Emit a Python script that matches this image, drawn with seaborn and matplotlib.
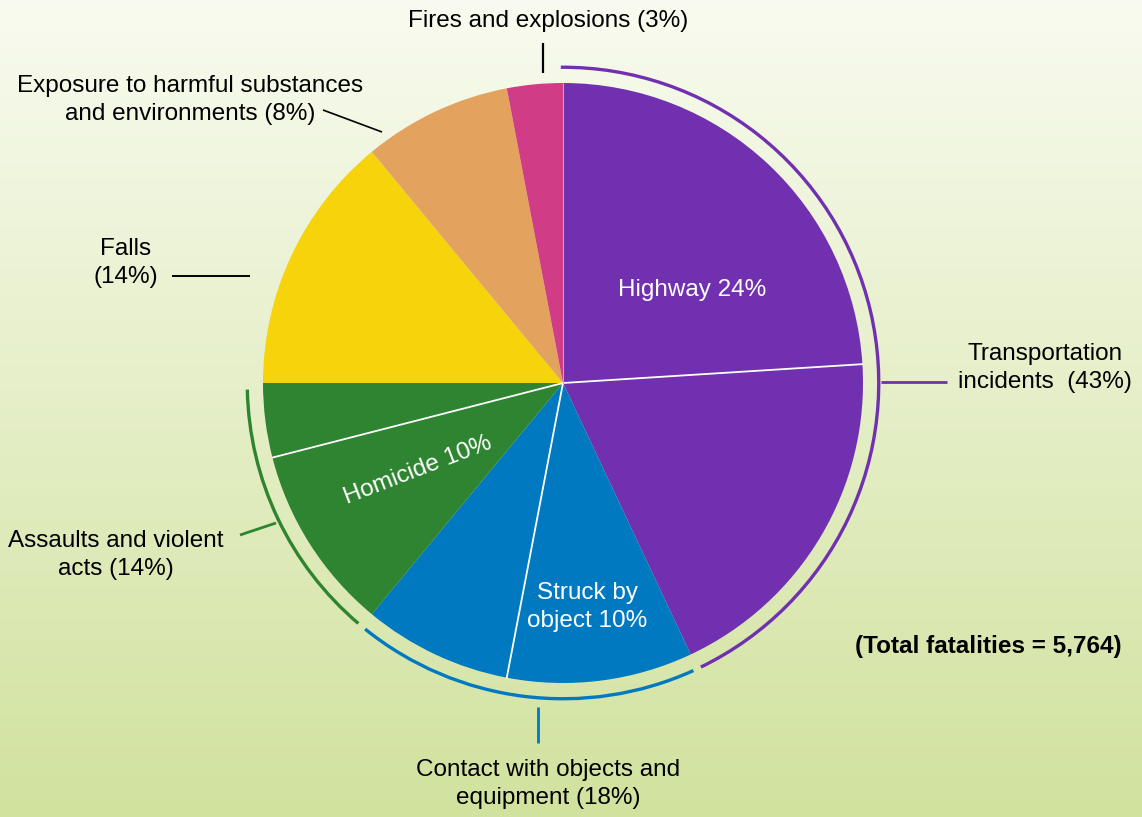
import numpy as np
import matplotlib.pyplot as plt
import seaborn as sns
from matplotlib.patches import Arc

# Data (percent of total fatalities), clockwise from top
slices = ['Highway', 'Other transportation', 'Struck by object', 'Other contact',
          'Homicide', 'Other assaults', 'Falls', 'Exposure', 'Fires']
values = [24, 19, 10, 8, 10, 4, 14, 8, 3]
colors = ['#7030B0', '#7030B0', '#0079C1', '#0079C1', '#2E8431', '#2E8431',
          '#F6D30A', '#E3A35E', '#D03D86']

groups = ['Transportation', 'Contact', 'Assaults']
group_slices = [(0, 2), (2, 4), (4, 6)]
group_colors = ['#7030B0', '#0079C1', '#2E8431']

sns.set_theme(style="white")
plt.rcParams['font.family'] = ['Liberation Sans Narrow', 'Liberation Sans', 'DejaVu Sans']

W, H = 1142, 817
cx, cy, R = 563, 383, 300

fig = plt.figure(figsize=(W / 100, H / 100), dpi=100)
ax = fig.add_axes([0, 0, 1, 1])
xlim = (-cx / R, (W - cx) / R)
ylim = (-(H - cy) / R, cy / R)

# background gradient
grad = np.linspace(0, 1, 256)[:, None]
top = np.array([0.975, 0.984, 0.94])
bot = np.array([0.82, 0.886, 0.62])
img = top + (bot - top) * grad[:, :, None]
ax.imshow(img, extent=[xlim[0], xlim[1], ylim[0], ylim[1]], aspect='auto', zorder=0)

wedges, _ = ax.pie(values, colors=colors, startangle=90, counterclock=False,
                   radius=1, wedgeprops=dict(linewidth=0))
for w in wedges:
    w.set_zorder(2)

# white separators inside groups
angles = 90 - np.cumsum([0] + values) * 3.6
for i in [1, 3, 5]:
    a = np.deg2rad(angles[i])
    ax.plot([0, np.cos(a)], [0, np.sin(a)], color='white', lw=1.3, zorder=3)
a = np.deg2rad(angles[0])
ax.plot([0, np.cos(a)], [0, np.sin(a)], color='#E890C0', lw=0.8, zorder=3)

# group arcs
gaps = [(0.7, -0.4), (0.8, 0.8), (1.2, 0.8)]
for (s, e), c, (g1, g2) in zip(group_slices, group_colors, gaps):
    t2 = angles[s] - g2
    t1 = angles[e] + g1
    ax.add_patch(Arc((0, 0), 2.105, 2.105, theta1=t1, theta2=t2, color=c, lw=2.4, zorder=3))


def P(px, py):
    return (px - cx) / R, (cy - py) / R


def line(p1, p2, c, lw=1.4):
    a, b = P(*p1), P(*p2)
    ax.plot([a[0], b[0]], [a[1], b[1]], color=c, lw=lw, zorder=3, solid_capstyle='butt')


line((881, 382), (947, 382), '#7030B0', 2)
line((538, 707), (538, 743), '#0079C1', 2)
line((240, 535), (276, 523), '#2E8431', 2)
line((543, 43), (543, 73), 'black', 1.6)
line((323, 110), (382, 132), 'black', 1.2)
line((172, 276), (250, 276), 'black', 1.4)

fs = 17.5
ls = 1.3
labels = [
    ('Fires and explosions (3%)', 548, 21),
    ('Exposure to harmful substances\nand environments (8%)', 190, 100),
    ('Falls\n(14%)', 126, 263),
    ('Transportation\nincidents  (43%)', 1045, 368),
    ('Assaults and violent\nacts (14%)', 116, 555),
    ('Contact with objects and\nequipment (18%)', 548, 784),
]
for t, px, py in labels:
    x, y = P(px, py)
    ax.text(x, y, t, ha='center', va='center', fontsize=fs, color='black',
            linespacing=ls, zorder=4)

x, y = P(988, 646)
ax.text(x, y, '(Total fatalities = 5,764)', ha='center', va='center', fontsize=fs,
        fontweight='bold', color='black', zorder=4)

inner = [('Highway 24%', 692, 290, 0), ('Struck by\nobject 10%', 587, 607, 0),
         ('Homicide 10%', 418, 470, 21)]
for t, px, py, rot in inner:
    x, y = P(px, py)
    ax.text(x, y, t, ha='center', va='center', fontsize=fs, color='white',
            rotation=rot, linespacing=ls, zorder=4)

ax.set_xlim(*xlim)
ax.set_ylim(*ylim)
ax.set_aspect('equal')
ax.axis('off')

plt.savefig('out.png', dpi=100)
